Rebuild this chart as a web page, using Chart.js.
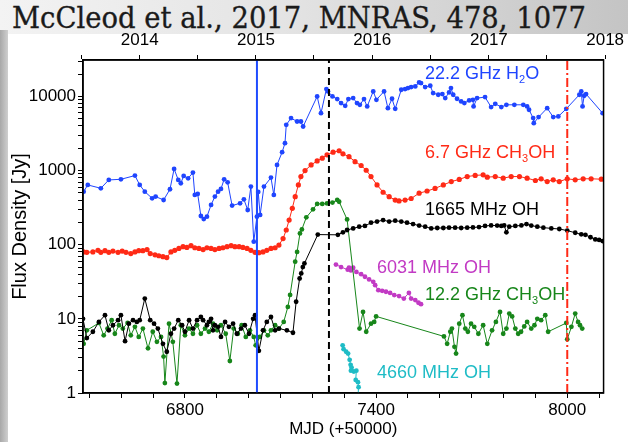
<!DOCTYPE html>
<html><head><meta charset="utf-8">
<script src="https://cdn.jsdelivr.net/npm/chart.js@4/dist/chart.umd.min.js"></script>
<style>
html,body{margin:0;padding:0;width:628px;height:442px;overflow:hidden;}
body{position:relative;background:linear-gradient(90deg,#f3f3f3 0%,#e4e4e4 45%,#c4c4c4 100%);}
#strip{position:absolute;left:0;top:30px;width:8px;height:412px;background:linear-gradient(90deg,#a8a8a8,#cfcfcf);}
#panel{position:absolute;left:8px;top:34px;right:0;bottom:0;background:#fff;}
#title{position:absolute;left:12px;top:0px;font-family:'DejaVu Serif',serif;font-size:30px;color:#1a1a1a;white-space:nowrap;transform-origin:0 0;line-height:36px;-webkit-text-stroke:0.35px #1a1a1a;}
canvas{position:absolute;left:0;top:0;}
</style></head><body>
<div id="strip"></div><div id="panel"></div>
<div id="title">McCleod et al., 2017, MNRAS, 478, 1077</div>
<canvas id="c" width="628" height="442"></canvas>
<script>
// ---------------- data (MJD - 50000, flux density in Jy) ----------------
const h2oMJD = [6482,6495,6536,6561,6599,6643,6658,6674,6697,6708,6733,6753,6766,6779,6787,6796,6810,6825,6831,6840,6850,6859,6869,6882,6894,6904,6913,6923,6934,6948,6973,6985,6997,7007,7016,7026,7030,7036,7048,7070,7079,7089,7105,7114,7118,7133,7152,7164,7171,7215,7227,7244,7249,7263,7278,7290,7303,7313,7328,7340,7349,7362,7372,7391,7401,7425,7437,7450,7460,7479,7491,7500,7510,7523,7535,7541,7554,7570,7579,7595,7608,7617,7629,7635,7642,7654,7667,7677,7692,7704,7706,7717,7742,7761,7774,7793,7809,7834,7862,7874,7880,7893,7895,7910,7937,7956,7972,7997,8038,8044,8048,8053,8059,8111];
const h2oFlux = [520,640,577,748,763,856,640,520,423,446,401,560,1053,748,675,847,787,939,469,484,244,222,239,344,446,520,565,763,695,337,362,410,294,608,110,239,515,252,608,804,469,1193,1770,2340,4140,5100,4590,4590,3930,10000,5950,12570,11700,10000,9200,8130,7480,9200,9490,8130,7710,9200,7330,11700,9010,11700,6950,9300,6810,12300,12570,12960,13370,13650,15450,15130,13370,13940,11090,10540,10770,9490,11330,12960,10540,9300,8550,8130,8830,9010,7330,9490,9790,7180,7960,7180,7710,7710,7710,7330,6610,5100,4360,5260,6950,5260,5370,6810,10540,11700,7330,10210,10770,5950];

const m67MJD = [6482,6492,6511,6527,6536,6549,6561,6574,6590,6603,6615,6630,6643,6655,6668,6681,6691,6706,6718,6731,6743,6756,6768,6781,6794,6806,6819,6831,6844,6857,6869,6882,6894,6907,6919,6932,6945,6957,6970,6982,6995,7007,7020,7032,7045,7057,7070,7083,7095,7108,7118,7127,7137,7146,7156,7164,7177,7196,7215,7231,7246,7265,7284,7296,7315,7334,7353,7369,7384,7403,7422,7441,7460,7472,7491,7510,7535,7560,7585,7611,7636,7661,7686,7711,7736,7749,7774,7799,7824,7850,7874,7900,7918,7937,7956,7975,8000,8025,8050,8075,8107];
const m67Flux = [80,79,80,84,79,83,79,82,79,82,79,76,80,83,83,86,76,73,71,69,67,80,84,89,94,92,97,91,89,86,91,89,86,89,91,94,97,94,94,92,89,84,79,78,80,84,89,91,99,121,158,215,310,445,640,830,1000,1190,1350,1470,1630,1770,1850,1680,1540,1320,1170,1010,830,640,510,445,400,390,400,420,495,530,575,640,710,760,830,860,875,815,830,790,830,830,790,735,775,710,750,710,775,750,775,775,765];

const oh1665MJD = [6480,6492,6511,6530,6549,6561,6574,6590,6599,6612,6624,6637,6649,6658,6674,6691,6703,6715,6731,6743,6756,6766,6779,6791,6800,6813,6825,6838,6850,6857,6869,6875,6882,6888,6894,6904,6913,6926,6938,6951,6963,6976,6988,7001,7014,7020,7032,7045,7057,7070,7083,7095,7120,7139,7149,7160,7165,7170,7175,7217,7280,7296,7309,7328,7347,7365,7384,7403,7422,7441,7460,7479,7497,7516,7535,7554,7573,7592,7611,7629,7648,7667,7686,7704,7723,7742,7761,7780,7793,7802,7809,7818,7837,7856,7872,7887,7906,7925,7950,7975,8000,8025,8044,8057,8073,8088,8100,8111];
const oh1665Flux = [10,5.5,6.7,9.1,11.2,7,8.2,9.6,11.2,5,8.6,9.6,9.1,9.6,18.8,9.6,8.6,7.4,4.6,3.6,6.3,7.4,9.6,8.2,6.7,9.6,7.4,9.6,10.6,9.6,8.2,9.1,10,7,8.2,7.8,5.7,9.1,7.8,8.6,6.3,7.4,8.2,6.3,10,11.2,3.7,7,9.1,10.6,7,7.4,7,6.5,17,35,41,50,56,137,136,147,158,166,175,179,198,205,215,205,211,205,198,190,181,175,166,168,168,170,170,168,170,171,173,179,182,181,179,182,147,175,179,182,190,181,175,170,166,163,155,145,138,136,126,118,116,112];

const m122MJD = [6482,6492,6530,6545,6557,6570,6580,6593,6605,6620,6630,6643,6655,6668,6684,6699,6712,6725,6733,6737,6750,6762,6775,6787,6800,6813,6825,6838,6850,6863,6875,6888,6901,6913,6928,6941,6953,6966,6978,6991,7004,7016,7022,7035,7048,7060,7070,7083,7095,7110,7123,7130,7146,7152,7161,7167,7181,7202,7215,7231,7246,7263,7278,7284,7309,7348,7359,7369,7384,7394,7400,7613,7623,7633,7638,7646,7651,7661,7671,7680,7688,7698,7708,7721,7736,7749,7764,7776,7789,7799,7809,7818,7827,7837,7846,7855,7865,7874,7887,7897,7906,7918,7931,7940,7997,8000,8013,8025,8034,8040,8047];
const m122Flux = [4.6,7,8.8,6,7.4,9.6,6.3,8.2,7.4,8.8,6,7.8,5.7,7.4,4,6.7,4.9,5.7,3.1,1.36,8.6,4.9,1.34,8.2,6,7.4,6.3,8.2,6.3,7.4,6.7,8.6,7,8.2,6.3,2.7,7.4,6.3,8.2,5.7,7,5.7,4.4,5.7,7,6,7,8.2,7.4,9.1,14.5,21,59,80,142,161,234,300,355,355,360,370,402,380,219,7.4,12.4,6.7,8.6,9.1,10.8,5.8,4.6,6.7,7.4,4.2,3.4,8.6,11.2,7.4,6.7,8.6,7.8,6.3,8.2,4.6,7,9.1,12.4,6.3,7.4,11.8,10.8,7.4,6.3,6.7,7.9,9.1,7.4,8.2,10,9.6,11.2,6.7,8.8,5.3,7.8,11.8,9.1,8.2,7.4];

const oh6031MJD = [7274,7290,7311,7315,7321,7328,7338,7353,7365,7378,7391,7397,7407,7419,7431,7444,7457,7472,7487,7503,7510,7523,7533,7541];
const oh6031Flux = [54,50,46,49,45,49,43,40,37,34,31.6,28.5,24.4,23.9,23.2,22.4,20.9,20.3,18.8,22.4,18.8,17.9,16.5,15.8];

const oh4660MJD = [7295,7298,7306,7312,7317,7320,7323,7321,7330,7338,7336,7343,7345,7343];
const oh4660Flux = [4.4,3.9,3.6,3.4,2.8,2.4,2.2,2.0,1.95,2.0,1.5,1.4,1.2,0.9];

// epochs marked by vertical lines
const epochBlue = 7026;
const epochBlack = 7252;
const epochRed = 8000;

// axes
const xMin = 6480, xMax = 8114;
const yMin = 1, yMax = 31000;
const mjdLabelTicks = [6800, 7400, 8000];
const yLabelTicks = [1, 10, 100, 1000, 10000];
const yearTickMJD = [6474, 6658, 6839, 7023, 7204, 7388, 7570, 7754, 7935, 8119];
const yearTickLabels = ['', '2014', '', '2015', '', '2016', '', '2017', '', '2018'];

// ---------------- styling ----------------
const FONT = "'Liberation Sans', Arial, Helvetica, sans-serif";
const COL = { h2o:'#1f45ff', m67:'#ff2a16', oh1665:'#000000', m122:'#17861a', oh6031:'#c23ac4', oh4660:'#1fbcc6' };

const mjdMinorTicks = [];
for (let v = 6500; v <= 8100; v += 100) mjdMinorTicks.push(v);
const yTickValues = [];
for (let e = 0; e <= 4; e++) for (let d = 1; d <= 9; d++) { const v = d * Math.pow(10, e); if (v <= yMax) yTickValues.push(v); }

const pts = (xs, ys) => xs.map((x, i) => ({x: x, y: ys[i]}));
function series(label, xs, ys, color, r) {
  return { label, data: pts(xs, ys), borderColor: color, backgroundColor: color, borderWidth: 1,
    pointRadius: r, pointBorderWidth: 0, pointHoverRadius: r, tension: 0, fill: false };
}
function vline(label, x, color, dash, w) {
  return { label, data: [{x: x, y: yMin}, {x: x, y: yMax}], borderColor: color, borderWidth: w,
    borderDash: dash, pointRadius: 0, fill: false };
}

const annotations = [
  {parts:[['22.2 GHz H',0],['2',1],['O',0]], color: COL.h2o, x:425, y:79},
  {parts:[['6.7 GHz CH',0],['3',1],['OH',0]], color: COL.m67, x:425, y:158},
  {parts:[['1665 MHz OH',0]], color: COL.oh1665, x:425, y:215},
  {parts:[['6031 MHz OH',0]], color: COL.oh6031, x:377, y:273},
  {parts:[['12.2 GHz CH',0],['3',1],['OH',0]], color: COL.m122, x:425, y:300},
  {parts:[['4660 MHz OH',0]], color: COL.oh4660, x:377, y:378}
];

const extras = {
  id: 'extras',
  afterDraw(chart) {
    const ctx = chart.ctx, a = chart.chartArea;
    ctx.save();
    ctx.strokeStyle = '#000'; ctx.lineWidth = 1.5;
    ctx.strokeRect(a.left, a.top, a.right - a.left, a.bottom - a.top);
    ctx.textBaseline = 'alphabetic'; ctx.textAlign = 'left';
    for (const an of annotations) {
      let x = an.x;
      ctx.fillStyle = an.color;
      for (const [t, sub] of an.parts) {
        ctx.font = (sub ? '11px ' : '18px ') + FONT;
        ctx.fillText(t, x, an.y + (sub ? 4 : 0));
        x += ctx.measureText(t).width;
      }
    }
    ctx.restore();
  }
};

const tickFont = {family: FONT, size: 17};
const gridOpts = { drawOnChartArea: false, drawTicks: true, tickLength: 5, color: '#000', lineWidth: 1 };

new Chart(document.getElementById('c'), {
  type: 'line',
  data: { datasets: [
    vline('blue epoch', epochBlue, '#1f4cff', [], 2),
    vline('black epoch', epochBlack, '#000', [7, 4], 2),
    vline('red epoch', epochRed, '#ff2a16', [9, 3, 2, 3], 2),
    series('22.2 GHz H2O', h2oMJD, h2oFlux, COL.h2o, 2.4),
    series('6.7 GHz CH3OH', m67MJD, m67Flux, COL.m67, 2.6),
    series('1665 MHz OH', oh1665MJD, oh1665Flux, COL.oh1665, 2.4),
    series('12.2 GHz CH3OH', m122MJD, m122Flux, COL.m122, 2.4),
    series('6031 MHz OH', oh6031MJD, oh6031Flux, COL.oh6031, 2.4),
    series('4660 MHz OH', oh4660MJD, oh4660Flux, COL.oh4660, 2.4)
  ]},
  options: {
    responsive: false, animation: false, parsing: true,
    layout: { padding: { left: 0, right: 24, top: 0, bottom: 0 } },
    plugins: { legend: { display: false }, tooltip: { enabled: false } },
    scales: {
      x: {
        type: 'linear', position: 'bottom', min: xMin, max: xMax, bounds: 'data',
        afterBuildTicks: s => { s.ticks = mjdMinorTicks.map(v => ({value: v})); },
        afterFit: s => { s.height = 49; },
        ticks: { autoSkip: false, maxRotation: 0, padding: 2, color: '#000', font: tickFont,
          callback: v => mjdLabelTicks.includes(v) ? String(v) : '' },
        grid: gridOpts,
        border: { color: '#000', width: 1.5 },
        title: { display: true, text: 'MJD (+50000)', color: '#000', font: {family: FONT, size: 17}, padding: {top: 0, bottom: 2} }
      },
      x2: {
        type: 'linear', position: 'top', min: xMin, max: xMax, bounds: 'data',
        afterBuildTicks: s => { s.ticks = yearTickMJD.map(v => ({value: v})); },
        afterFit: s => { s.height = 60; },
        ticks: { autoSkip: false, maxRotation: 0, padding: 4, color: '#000', font: tickFont,
          callback: (v, i) => yearTickLabels[i] },
        grid: gridOpts,
        border: { color: '#000', width: 1.5 }
      },
      y: {
        type: 'logarithmic', position: 'left', min: yMin, max: yMax, bounds: 'data',
        afterBuildTicks: s => { s.ticks = yTickValues.map(v => ({value: v})); },
        afterFit: s => { s.width = 83; },
        ticks: { autoSkip: false, padding: 2, color: '#000', font: tickFont,
          callback: v => yLabelTicks.includes(v) ? String(v) : '' },
        grid: gridOpts,
        border: { color: '#000', width: 1.5 },
        title: { display: true, text: 'Flux Density [Jy]', color: '#000', font: {family: FONT, size: 20}, padding: {top: 8, bottom: 0} }
      }
    }
  },
  plugins: [extras]
});

// fit the heading to the reference width
const t = document.getElementById('title');
const w = t.getBoundingClientRect().width;
t.style.transform = 'scaleX(' + (574 / w) + ')';
</script></body></html>
